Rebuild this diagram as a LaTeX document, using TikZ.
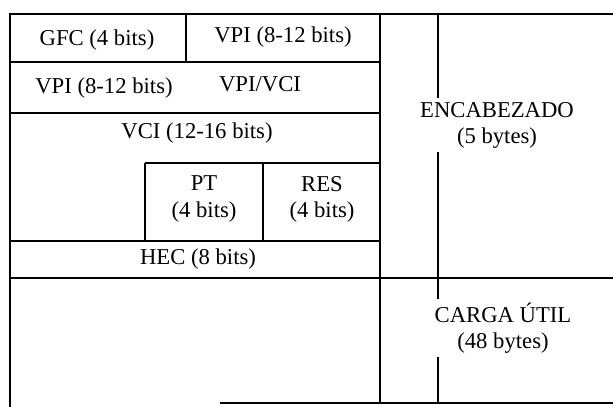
\documentclass[tikz,border=0pt]{standalone}
\usepackage{fontspec}
\setmainfont{Liberation Serif}
\usetikzlibrary{positioning,calc}

\begin{document}
\begin{tikzpicture}[
  field/.style={font=\fontsize{12.9}{14.8}\selectfont, align=center, inner sep=2pt},
  rule/.style={line width=1pt},
]
\useasboundingbox (0,0) rectangle (12.26,8.14);

% Header fields
\node[field] (gfc)   at (1.94,7.34) {GFC (4 bits)};
\node[field] (vpia)  at (5.66,7.40) {VPI (8-12 bits)};
\node[field] (vpib)  at (2.08,6.38) {VPI (8-12 bits)};
\node[field] (vpivci) at (5.20,6.46) {VPI/VCI};
\node[field] (vci)   at (3.94,5.48) {VCI (12-16 bits)};
\node[field] (pt)    at (4.08,4.16) {PT\\(4 bits)};
\node[field] (res)   at (6.44,4.16) {RES\\(4 bits)};
\node[field] (hec)   at (3.96,2.96) {HEC (8 bits)};

% Right side labels
\node[field] (enc)   at (9.94,5.64) {ENCABEZADO\\(5 bytes)};
\node[field] (carga) at (10.06,1.58) {CARGA ÚTIL\\(48 bytes)};

% Frame
\draw[rule] (0.2,0) -- (0.2,7.86) -- (12.26,7.86);
\draw[rule] (7.6,7.86) -- (7.6,0.08);
\draw[rule] (4.4,0.08) -- (12.26,0.08);
\draw[rule] (0.2,2.58) -- (12.26,2.58);

% Rows of the header
\draw[rule] (0.2,6.90) -- (7.6,6.90);
\draw[rule] (0.2,5.88) -- (7.6,5.88);
\draw[rule] (2.9,4.88) -- (7.6,4.88);
\draw[rule] (0.2,3.32) -- (7.6,3.32);
\draw[rule] (3.72,7.86) -- (3.72,6.90);
\draw[rule] (2.9,4.88) -- (2.9,3.32);
\draw[rule] (5.26,4.88) -- (5.26,3.32);

% Split line, broken by the labels
\draw[rule] (8.76,7.86) -- (enc.north -| 8.76,0);
\draw[rule] (enc.south -| 8.76,0) -- (carga.north -| 8.76,0);
\draw[rule] (carga.south -| 8.76,0) -- (8.76,0.08);
\end{tikzpicture}
\end{document}
